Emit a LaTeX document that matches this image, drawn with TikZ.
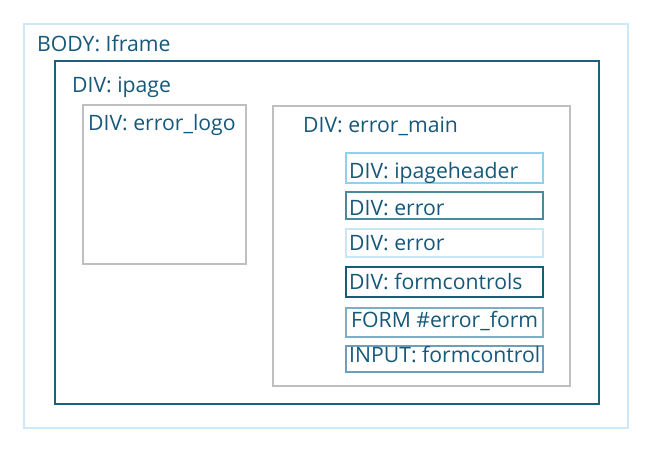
\documentclass[tikz,border=0pt]{standalone}
\usepackage{fontspec}
\setmainfont{Open Sans}
\definecolor{txt}{HTML}{16587A}
\definecolor{bodyc}{HTML}{CDE8F6}
\definecolor{ipagec}{HTML}{17627F}
\definecolor{grayc}{HTML}{BFBFBF}
\definecolor{hdrc}{HTML}{8DD0F0}
\definecolor{err1c}{HTML}{4B8A9C}
\definecolor{err2c}{HTML}{C8E6F6}
\definecolor{fcc}{HTML}{135E78}
\definecolor{formc}{HTML}{7EAEC3}
\definecolor{inputc}{HTML}{6E9FB9}
\begin{document}
\begin{tikzpicture}[x=1pt,y=-1pt,
  lbl/.style={anchor=base west,inner sep=0pt,text=txt,font=\fontsize{21.2}{24}\selectfont},
  frame/.style={line width=2pt}]
\useasboundingbox (0,0) rectangle (650,450);
\draw[frame,bodyc] (24,23.5) rectangle (628,428);
\draw[frame,ipagec] (54.5,60.5) rectangle (598.5,404);
\draw[frame,grayc] (83,104.5) rectangle (246,264);
\draw[frame,grayc] (273,105.5) rectangle (570,386);
\draw[frame,hdrc] (345.5,152.5) rectangle (543,183);
\draw[frame,err1c] (345.5,191.5) rectangle (543,219);
\draw[frame,err2c] (345.5,228.5) rectangle (543,257);
\draw[frame,fcc] (345.5,266.5) rectangle (543,297);
\draw[frame,formc] (345.5,307.5) rectangle (543,337);
\draw[frame,inputc] (345.5,345.5) rectangle (543,372);
\node[lbl] (tbody) at (37,51) {BODY: Iframe};
\node[lbl] (tipage) at (72,92.5) {DIV: ipage};
\node[lbl] (tlogo) at (88,130) {DIV: error\_logo};
\node[lbl] (tmain) at (303,132.5) {DIV: error\_main};
\node[lbl] (thdr) at (349,178) {DIV: ipageheader};
\node[lbl] (terr1) at (349,215) {DIV: error};
\node[lbl] (terr2) at (349,250) {DIV: error};
\node[lbl] (tfc) at (349,289.5) {DIV: formcontrols};
\node[lbl] (tform) at (351,327) {FORM \#error\_form};
\node[lbl] (tinput) at (349,362) {INPUT: formcontrol};
\end{tikzpicture}
\end{document}
